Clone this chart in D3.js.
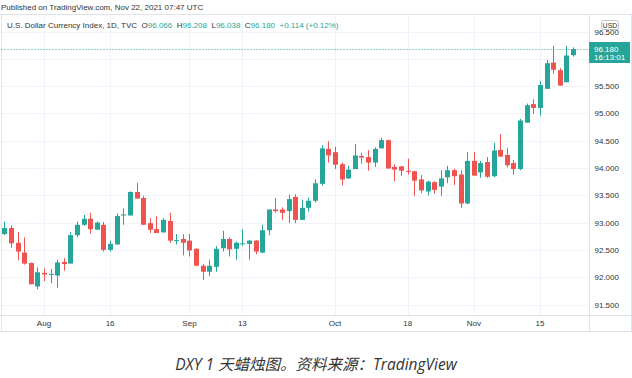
<!DOCTYPE html>
<html><head><meta charset="utf-8">
<script src="https://cdn.jsdelivr.net/npm/d3@7/dist/d3.min.js"></script>
<style>body{margin:0;background:#fff}svg{display:block}</style>
</head><body><svg id="c" width="632" height="378"></svg>
<script>
const dates = ["07-23","07-26","07-27","07-28","07-29","07-30",
"08-02","08-03","08-04","08-05","08-06","08-09","08-10","08-11","08-12","08-13",
"08-16","08-17","08-18","08-19","08-20","08-23","08-24","08-25","08-26","08-27","08-30","08-31",
"09-01","09-02","09-03","09-06","09-07","09-08","09-09","09-10","09-13","09-14","09-15","09-16","09-17",
"09-20","09-21","09-22","09-23","09-24","09-27","09-28","09-29","09-30",
"10-01","10-04","10-05","10-06","10-07","10-08","10-11","10-12","10-13","10-14","10-15",
"10-18","10-19","10-20","10-21","10-22","10-25","10-26","10-27","10-28","10-29",
"11-01","11-02","11-03","11-04","11-05","11-08","11-09","11-10","11-11","11-12",
"11-15","11-16","11-17","11-18","11-19","11-22"];
const open = [92.79,92.90,92.63,92.45,92.26,91.83,
92.08,92.05,92.03,92.28,92.25,92.77,92.96,93.07,92.87,92.96,
92.50,92.60,93.13,93.13,93.56,93.45,92.99,92.88,92.82,93.03,92.67,92.70,
92.67,92.52,92.21,92.10,92.19,92.53,92.70,92.52,92.61,92.61,92.67,92.45,92.86,
93.24,93.24,93.21,93.47,93.05,93.27,93.40,93.71,94.35,
94.29,94.07,93.81,93.98,94.22,94.20,94.10,94.36,94.51,94.02,94.03,
93.95,93.94,93.79,93.57,93.74,93.66,93.83,93.96,93.88,93.35,
94.13,93.92,94.11,93.85,94.33,94.24,94.09,93.98,94.83,95.17,
95.10,95.45,95.93,95.79,95.57,96.066];
const high = [93.02,92.95,92.83,92.73,92.27,92.18,
92.16,92.15,92.32,92.35,92.83,93.02,93.14,93.18,93.02,93.01,
92.67,93.17,93.26,93.57,93.73,93.49,93.08,93.12,93.08,93.18,92.79,92.79,
92.79,92.53,92.24,92.32,92.57,92.85,92.73,92.65,92.88,92.68,92.68,92.96,93.24,
93.45,93.28,93.51,93.52,93.42,93.46,93.79,94.42,94.49,
94.39,94.10,94.04,94.44,94.28,94.33,94.38,94.55,94.52,94.07,94.03,
94.17,93.95,93.87,93.77,93.76,93.96,94.04,93.99,93.96,94.29,
94.29,94.13,94.20,94.46,94.62,94.37,94.15,94.90,95.18,95.26,
95.59,95.98,96.24,95.83,96.24,96.208];
const low = [92.77,92.54,92.31,92.23,91.87,91.78,
91.93,91.89,91.81,92.12,92.25,92.73,92.94,92.80,92.87,92.47,
92.47,92.60,92.96,93.13,93.44,92.96,92.81,92.81,92.82,92.63,92.60,92.40,
92.38,92.21,91.95,92.02,92.10,92.47,92.38,92.32,92.57,92.32,92.42,92.45,92.77,
93.18,93.05,92.99,92.99,93.05,93.20,93.37,93.68,94.10,
93.98,93.68,93.80,93.98,94.08,93.95,94.02,94.36,93.99,93.76,93.85,
93.88,93.49,93.54,93.50,93.53,93.49,93.72,93.69,93.27,93.34,
93.86,93.82,93.82,93.83,94.20,94.01,93.88,93.96,94.83,94.99,
94.96,95.45,95.73,95.51,95.57,96.038];
const close = [92.90,92.62,92.47,92.25,91.87,92.09,
92.05,92.06,92.27,92.24,92.77,92.96,93.07,92.88,93.00,92.50,
92.61,93.12,93.15,93.56,93.44,92.96,92.87,92.81,93.05,92.67,92.68,92.63,
92.49,92.21,92.10,92.21,92.52,92.70,92.51,92.63,92.62,92.67,92.47,92.86,93.24,
93.21,93.18,93.43,93.05,93.27,93.40,93.72,94.36,94.23,
94.06,93.79,93.97,94.23,94.19,94.10,94.35,94.51,93.99,93.97,93.95,
93.94,93.77,93.59,93.75,93.60,93.81,93.96,93.85,93.35,94.13,
93.86,94.09,93.84,94.32,94.21,94.05,93.98,94.87,95.15,95.10,
95.52,95.92,95.80,95.51,96.06,96.180];
const tickDates = ["08-02","08-16","09-01","09-13","10-01","10-18","11-01","11-15"];
const tickLabels = ["Aug","16","Sep","13","Oct","18","Nov","15"];
const yTicks = [91.5,92,92.5,93,93.5,94,94.5,95,95.5,96,96.5];
const yLabelTicks = [91.5,92,92.5,93,93.5,94,94.5,95,95.5,96.5]; // 96.000 is hidden behind the price label
const lastPrice = 96.180, lastTime = "16:13:01";

const UP = "#26a69a", DOWN = "#ef5350", GRID = "#f0f3fa", BORDER = "#e0e3eb", TXT = "#333";
const svg = d3.select("#c");
const font = "'Liberation Sans', Arial, sans-serif";
const plotL = 1.5, plotR = 589.5, plotT = 15, plotB = 315;

const x = d3.scaleBand().domain(dates).range([1, 576.3]).padding(0);
const cx = d => x(d) + x.bandwidth()/2;
const y = d3.scaleLinear().domain([91.5, 96.5]).range([304.5, 31.5]);

// grid
svg.append("g").selectAll("line").data(yTicks).join("line")
  .attr("x1", plotL).attr("x2", plotR).attr("y1", d => Math.round(y(d))+0.5).attr("y2", d => Math.round(y(d))+0.5)
  .attr("stroke", GRID).attr("stroke-width", 1);
svg.append("g").selectAll("line").data(tickDates).join("line")
  .attr("x1", d => Math.round(cx(d))+0.5).attr("x2", d => Math.round(cx(d))+0.5).attr("y1", plotT).attr("y2", plotB)
  .attr("stroke", GRID).attr("stroke-width", 1);

// frame
const frame = svg.append("g").attr("stroke", BORDER).attr("stroke-width", 1).attr("fill", "none");
frame.append("line").attr("x1", 0).attr("x2", 632).attr("y1", 14.5).attr("y2", 14.5);
frame.append("line").attr("x1", 0).attr("x2", 632).attr("y1", 315.5).attr("y2", 315.5);
frame.append("line").attr("x1", 0).attr("x2", 632).attr("y1", 331.5).attr("y2", 331.5);
frame.append("line").attr("x1", 1.5).attr("x2", 1.5).attr("y1", 14.5).attr("y2", 331.5);
frame.append("line").attr("x1", plotR).attr("x2", plotR).attr("y1", 14.5).attr("y2", 331.5);
frame.append("line").attr("x1", 631.5).attr("x2", 631.5).attr("y1", 14.5).attr("y2", 331.5);

// candles
const idx = d3.range(dates.length);
const g = svg.append("g");
g.selectAll("line.wick").data(idx).join("line").attr("class","wick")
  .attr("x1", i => Math.round(cx(dates[i]))+0.5).attr("x2", i => Math.round(cx(dates[i]))+0.5)
  .attr("y1", i => y(high[i])).attr("y2", i => y(low[i]))
  .attr("stroke", i => close[i] >= open[i] ? UP : DOWN).attr("stroke-width", 1);
g.selectAll("rect.body").data(idx).join("rect").attr("class","body")
  .attr("x", i => Math.round(cx(dates[i])) - 2)
  .attr("width", 5)
  .attr("y", i => y(Math.max(open[i], close[i])))
  .attr("height", i => Math.max(1, Math.abs(y(open[i]) - y(close[i]))))
  .attr("fill", i => close[i] >= open[i] ? UP : DOWN);

// last price dotted line
svg.append("line").attr("x1", plotL).attr("x2", plotR)
  .attr("y1", Math.round(y(lastPrice))+0.5).attr("y2", Math.round(y(lastPrice))+0.5)
  .attr("stroke", UP).attr("stroke-width", 1).attr("stroke-dasharray", "1,2");

// y axis
const yAxis = svg.append("g").attr("transform", `translate(${plotR},0)`)
  .call(d3.axisRight(y).tickValues(yLabelTicks).tickFormat(d3.format(".3f")).tickSize(0).tickPadding(5));
yAxis.select(".domain").remove();
yAxis.selectAll("text").attr("font-family", font).attr("font-size", 8).attr("fill", TXT);

// x axis
const xAxis = svg.append("g").attr("transform", `translate(0,${plotB})`)
  .call(d3.axisBottom(x).tickValues(tickDates).tickFormat(d => tickLabels[tickDates.indexOf(d)]).tickSize(0).tickPadding(5));
xAxis.select(".domain").remove();
xAxis.selectAll("text").attr("font-family", font).attr("font-size", 8).attr("fill", TXT);

// price label
svg.append("rect").attr("x", 589).attr("y", Math.round(y(lastPrice)) - 7).attr("width", 41).attr("height", 21).attr("fill", UP);
svg.append("text").attr("x", 594).attr("y", Math.round(y(lastPrice)) + 3).text(lastPrice.toFixed(3))
  .attr("font-family", font).attr("font-size", 8).attr("fill", "#fff");
svg.append("text").attr("x", 594).attr("y", Math.round(y(lastPrice)) + 11).text(lastTime)
  .attr("font-family", font).attr("font-size", 8).attr("fill", "#fff");

// USD box
svg.append("rect").attr("x", 601.5).attr("y", 20.5).attr("width", 17).attr("height", 9).attr("rx", 2)
  .attr("fill", "#fff").attr("stroke", "#b2b5be").attr("stroke-width", 0.8);
svg.append("text").attr("x", 610).attr("y", 27.7).attr("text-anchor", "middle").text("USD")
  .attr("font-family", font).attr("font-size", 7).attr("fill", TXT);

// header
svg.append("text").attr("x", 1).attr("y", 10).text("Published on TradingView.com, Nov 22, 2021 07:47 UTC")
  .attr("font-family", font).attr("font-size", 8).attr("fill", TXT);
const leg = svg.append("text").attr("x", 7).attr("y", 28).attr("font-family", font).attr("font-size", 8).attr("fill", TXT)
  .style("white-space", "pre");
const parts = [["U.S. Dollar Currency Index, 1D, TVC  O", TXT], ["96.066", UP], ["  H", TXT], ["96.208", UP],
  ["  L", TXT], ["96.038", UP], ["  C", TXT], ["96.180", UP], ["  +0.114 (+0.12%)", UP]];
parts.forEach(p => leg.append("tspan").text(p[0]).attr("fill", p[1]));

// caption
svg.append("text").attr("x", 316).attr("y", 370).attr("text-anchor", "middle")
  .attr("font-family", "'Open Sans','Noto Sans CJK SC',sans-serif").attr("font-style", "italic")
  .attr("font-size", 15.5).attr("fill", "#333").text("DXY 1 天蜡烛图。资料来源：TradingView");
</script></body></html>
